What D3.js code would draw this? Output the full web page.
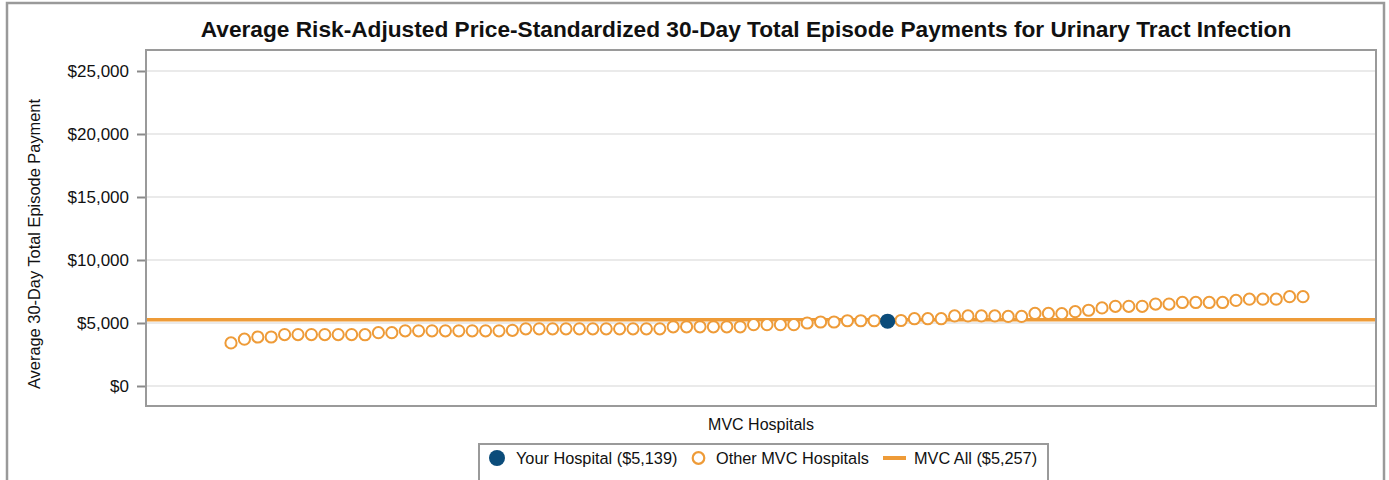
<!DOCTYPE html>
<html>
<head>
    <title>UTI Episode Payments</title>
    <style>
        body { margin: 0; background: #ffffff; }
        #chart { display: block; }
        text { font-family: "Liberation Sans", Arial, sans-serif; fill: #111111; }
    </style>
    <script src="https://d3js.org/d3.v7.min.js"></script>
</head>
<body>
    <svg id="chart" width="1389" height="480"></svg>
    <script>
        // data
        var titleText = "Average Risk-Adjusted Price-Standardized 30-Day Total Episode Payments for Urinary Tract Infection";
        var yTicks = [0, 5000, 10000, 15000, 20000, 25000];
        // other MVC hospitals, in plotted order (left to right)
        var otherHospitals = [
            3420, 3720, 3890, 3890, 4080, 4080, 4080, 4080, 4080, 4080,
            4070, 4230, 4230, 4380, 4380, 4380, 4380, 4380, 4380, 4380,
            4380, 4420, 4540, 4540, 4540, 4540, 4540, 4540, 4540, 4540,
            4540, 4540, 4540, 4700, 4700, 4700, 4700, 4700, 4700, 4870,
            4870, 4870, 4870, 5000, 5080, 5080, 5180, 5180, 5180, 5200,
            5340, 5340, 5340, 5560, 5560, 5560, 5560, 5520, 5520, 5760,
            5760, 5740, 5900, 6010, 6200, 6320, 6320, 6320, 6500, 6500,
            6630, 6630, 6630, 6630, 6790, 6890, 6890, 6890, 7090, 7090
        ];
        var yourHospital = 5139;
        var yourRank = 49;          // position among all hospitals
        var mvcAll = 5257;
        var legendLabels = ["Your Hospital ($5,139)", "Other MVC Hospitals", "MVC All ($5,257)"];

        var orange = "#ee9b38";
        var navy = "#0b4c7a";
        var frameGray = "#9a9a9a";

        var svg = d3.select("#chart");

        // outer border
        svg.append("rect")
            .attr("x", 7).attr("y", 3)
            .attr("width", 1377).attr("height", 520)
            .attr("fill", "none")
            .attr("stroke", frameGray)
            .attr("stroke-width", 2.5);

        var plot = { left: 146, top: 50, right: 1376, bottom: 406 };

        var n = otherHospitals.length + 1;
        var x = d3.scaleLinear().domain([0, n - 1]).range([231, 1303]);
        var y = d3.scaleLinear().domain([0, 25000]).range([386, 71]);

        // gridlines
        svg.append("g").selectAll("line")
            .data(yTicks)
            .join("line")
            .attr("x1", plot.left).attr("x2", plot.right)
            .attr("y1", function(d) { return y(d); })
            .attr("y2", function(d) { return y(d); })
            .attr("stroke", "#e3e3e3")
            .attr("stroke-width", 1.5);

        // y axis ticks and labels
        var yAxis = d3.axisLeft(y)
            .tickValues(yTicks)
            .tickSize(9)
            .tickPadding(8)
            .tickFormat(function(d) { return "$" + d3.format(",")(d); });
        var ya = svg.append("g")
            .attr("transform", "translate(" + plot.left + ",0)")
            .call(yAxis);
        ya.select(".domain").remove();
        ya.selectAll(".tick line").attr("stroke", "#8a8a8a").attr("stroke-width", 2);
        ya.selectAll(".tick text")
            .attr("fill", "#111111")
            .style("font-family", "'Liberation Sans', Arial, sans-serif")
            .style("font-size", "17px");

        // plot frame
        svg.append("rect")
            .attr("x", plot.left).attr("y", plot.top)
            .attr("width", plot.right - plot.left)
            .attr("height", plot.bottom - plot.top)
            .attr("fill", "none")
            .attr("stroke", frameGray)
            .attr("stroke-width", 2);

        // MVC all line
        svg.append("line")
            .attr("x1", plot.left + 1).attr("x2", plot.right - 1)
            .attr("y1", y(mvcAll)).attr("y2", y(mvcAll))
            .attr("stroke", orange)
            .attr("stroke-width", 3.5);

        // build the full ordered list with your hospital placed at its rank
        var points = otherHospitals.map(function(v) { return { value: v, mine: false }; });
        points.splice(yourRank, 0, { value: yourHospital, mine: true });

        svg.append("g").selectAll("circle")
            .data(points.filter(function(d) { return !d.mine; }))
            .join("circle")
            .attr("cx", function(d) { return x(points.indexOf(d)); })
            .attr("cy", function(d) { return y(d.value); })
            .attr("r", 5.6)
            .attr("fill", "#ffffff")
            .attr("stroke", orange)
            .attr("stroke-width", 2);

        svg.append("circle")
            .attr("cx", x(yourRank))
            .attr("cy", y(yourHospital))
            .attr("r", 7.6)
            .attr("fill", navy);

        // titles
        svg.append("text")
            .attr("x", 746).attr("y", 37)
            .attr("text-anchor", "middle")
            .style("font-size", "22.7px")
            .style("font-weight", "bold")
            .text(titleText);

        svg.append("text")
            .attr("transform", "translate(40,244) rotate(-90)")
            .attr("text-anchor", "middle")
            .style("font-size", "16.4px")
            .text("Average 30-Day Total Episode Payment");

        svg.append("text")
            .attr("x", (plot.left + plot.right) / 2).attr("y", 430)
            .attr("text-anchor", "middle")
            .style("font-size", "16px")
            .text("MVC Hospitals");

        // legend
        var lg = svg.append("g");
        lg.append("path")
            .attr("d", "M479,490 V444 H1048 V490")
            .attr("fill", "none")
            .attr("stroke", frameGray)
            .attr("stroke-width", 2);
        lg.append("circle").attr("cx", 497).attr("cy", 458).attr("r", 8).attr("fill", navy);
        lg.append("text").attr("x", 516).attr("y", 464).style("font-size", "16.3px").text(legendLabels[0]);
        lg.append("circle").attr("cx", 698.5).attr("cy", 458).attr("r", 5.8)
            .attr("fill", "#ffffff").attr("stroke", orange).attr("stroke-width", 2.2);
        lg.append("text").attr("x", 716).attr("y", 464).style("font-size", "16.3px").text(legendLabels[1]);
        lg.append("line").attr("x1", 883).attr("x2", 906).attr("y1", 458).attr("y2", 458)
            .attr("stroke", orange).attr("stroke-width", 4);
        lg.append("text").attr("x", 914).attr("y", 464).style("font-size", "16.3px").text(legendLabels[2]);
    </script>
</body>
</html>
